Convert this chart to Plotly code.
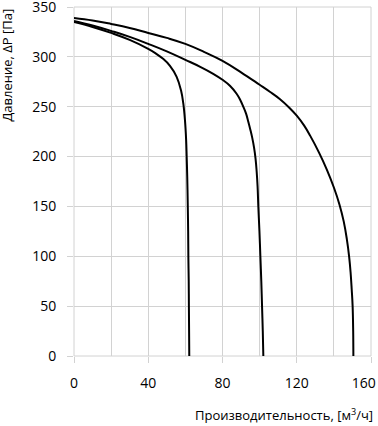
import plotly.graph_objects as go

# Curve 1
q1 = [0, 10, 20, 30, 40, 44, 48, 51.7, 55.3, 57.7, 58.9, 59.8, 60.4, 60.7, 61, 61.3, 61.5, 61.6, 61.8, 61.9, 62.0, 62.1]
p1 = [335, 330, 324, 317, 308, 303.5, 298, 291, 280, 266, 253, 236, 217, 200, 180, 150, 125, 100, 75, 50, 25, 0]
# Curve 2
q2 = [0, 10, 20, 30, 40, 50, 60, 68, 75, 80, 84, 87.6, 89.5, 91.2, 92.7, 93.9, 95, 96, 97, 97.8, 98.4, 98.9,
      99.3, 99.9, 100.4, 100.9, 101.3, 101.7, 102]
p2 = [336, 331.5, 326, 320, 313, 305.5, 297, 290, 283, 277, 271, 263, 257, 250, 243, 235, 227, 219, 209, 198, 185, 170,
      150, 125, 100, 75, 50, 25, 0]
# Curve 3
q3 = [0, 10, 20, 30, 40, 50, 60, 70, 80, 90, 100, 105.5, 111, 116, 120, 124, 127.2, 132, 136.2, 140, 143,
      145.3, 147, 148.2, 149, 149.6, 150.1, 150.4, 150.5]
p3 = [339, 336.5, 333, 329, 324, 319, 313, 305, 296, 284.5, 272, 265, 257.5, 249, 241, 231, 221, 204, 187, 169, 152,
      135, 117, 100, 84, 67, 50, 25, 0]

x_ticks = [0, 40, 80, 120, 160]
x_tick_labels = ["0", "40", "80", "120", "160\u00a0\u00a0\u00a0\u00a0"]
y_ticks = [0, 50, 100, 150, 200, 250, 300, 350]

GRID = "#d2d2d2"
FONT = "Open Sans"

fig = go.Figure()
for q, p in [(q1, p1), (q2, p2), (q3, p3)]:
    fig.add_trace(go.Scatter(x=q, y=p, mode="lines",
                             line=dict(color="black", width=2, shape="spline", smoothing=1.2),
                             showlegend=False, hoverinfo="skip"))

fig.update_layout(
    width=378, height=426,
    margin=dict(l=74, r=7, t=7, b=70, autoexpand=False),
    paper_bgcolor="white", plot_bgcolor="white",
    font=dict(family=FONT, size=14, color="black"),
    showlegend=False,
)
fig.update_xaxes(
    range=[0, 160], tickmode="array", tickvals=x_ticks, ticktext=x_tick_labels,
    showgrid=True, gridcolor=GRID, gridwidth=1,
    minor=dict(dtick=20, showgrid=True, gridcolor=GRID, gridwidth=1, ticks=""),
    ticks="outside", ticklen=6, tickcolor=GRID, tickwidth=1, automargin=False,
    showline=False, zeroline=False, ticklabelstandoff=8, ticklabeloverflow="allow",
)
fig.update_yaxes(
    range=[0, 350], tickmode="array", tickvals=y_ticks,
    showgrid=True, gridcolor=GRID, gridwidth=1,
    ticks="outside", ticklen=6, tickcolor=GRID, tickwidth=1, automargin=False,
    showline=False, zeroline=False, ticklabelstandoff=8, ticklabeloverflow="allow",
)
# plot-area border
fig.add_shape(type="rect", xref="paper", yref="paper", x0=0, y0=0, x1=1, y1=1,
              line=dict(color=GRID, width=1), layer="below")
fig.add_annotation(
    text="Производительность, [м<sup>3</sup>/ч]",
    xref="paper", yref="paper", x=1.0135, y=-0.169,
    xanchor="right", yanchor="middle", showarrow=False,
    font=dict(family=FONT, size=13, color="black"),
)
fig.add_annotation(
    text="Давление, ΔP [Па]", textangle=-90,
    xref="paper", yref="paper", x=-0.2256, y=0.835,
    xanchor="center", yanchor="middle", showarrow=False,
    font=dict(family=FONT, size=13, color="black"),
)
fig.write_html("out.html", config={"displayModeBar": False},
               post_script="document.body.style.margin='0';")
